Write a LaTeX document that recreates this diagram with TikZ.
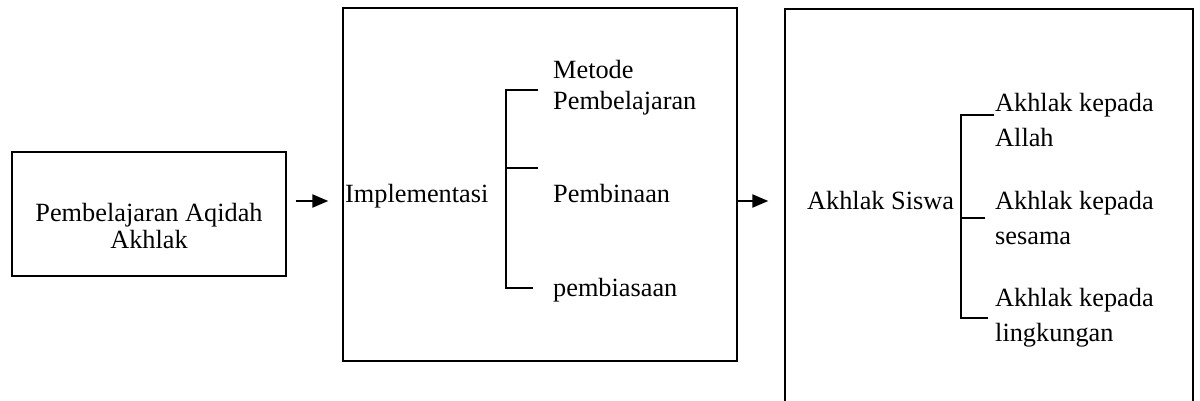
\documentclass[tikz,border=0pt]{standalone}
\usepackage{fontspec}
\setmainfont{Liberation Serif}
\usetikzlibrary{arrows.meta}
\begin{document}
\begin{tikzpicture}[x=1pt,y=-1pt,
  frame/.style={draw=black,line width=1.3pt,inner sep=0pt,fill=none},
  txt/.style={inner sep=0pt,anchor=base west,font=\fontsize{26.3}{30}\selectfont},
  ctxt/.style={inner sep=0pt,anchor=base,font=\fontsize{26.3}{30}\selectfont},
  flow/.style={line width=2pt,-{Triangle[length=16pt,width=13pt]}},
  brk/.style={line width=1.3pt}]
\useasboundingbox (0,0) rectangle (1200,401);
\clip (0,0) rectangle (1200,401);
\fill[white] (0,0) rectangle (1200,401);
% boxes
\node[frame,minimum width=274pt,minimum height=124pt] (b1) at (149,214) {};
\node[frame,minimum width=394pt,minimum height=353pt] (b2) at (540,184.5) {};
\node[frame,minimum width=408pt,minimum height=440pt] (b3) at (989,229) {};
% box1 text
\node[ctxt] (t1a) at (149,222) {Pembelajaran Aqidah};
\node[ctxt] (t1b) at (149,248) {Akhlak};
% box2 text
\node[txt] (impl) at (345,202) {Implementasi};
\node[txt] (m1) at (553,79) {Metode};
\node[txt] (m2) at (553,110) {Pembelajaran};
\node[txt] (m3) at (553,203) {Pembinaan};
\node[txt] (m4) at (553,296) {pembiasaan};
% box3 text
\node[txt] (as) at (807,209) {Akhlak Siswa};
\node[txt] (a1) at (995,112) {Akhlak kepada};
\node[txt] (a1b) at (995,147) {Allah};
\node[txt] (a2) at (995,209) {Akhlak kepada};
\node[txt] (a2b) at (995,244) {sesama};
\node[txt] (a3) at (995,306) {Akhlak kepada};
\node[txt] (a3b) at (995,341) {lingkungan};
% arrows
\draw[flow,shorten <=9pt,shorten >=14pt] (b1.east |- 0,201) -- (b2.west |- 0,201);
\draw[flow,shorten >=16pt] (b2.east |- 0,201) -- (b3.west |- 0,201);
% bracket in box2
\coordinate (p1) at (506,90);
\coordinate (p2) at (506,288);
\coordinate (p3) at (506,168);
\draw[brk] (538,90) -- (p1) -- (p2) -- (533,288);
\draw[brk] (p3) -- (538,168);
% bracket in box3
\coordinate (q1) at (961,115);
\coordinate (q2) at (961,318);
\coordinate (q3) at (961,218);
\draw[brk] (994,115) -- (q1) -- (q2) -- (988,318);
\draw[brk] (q3) -- (985,218);
\end{tikzpicture}
\end{document}
